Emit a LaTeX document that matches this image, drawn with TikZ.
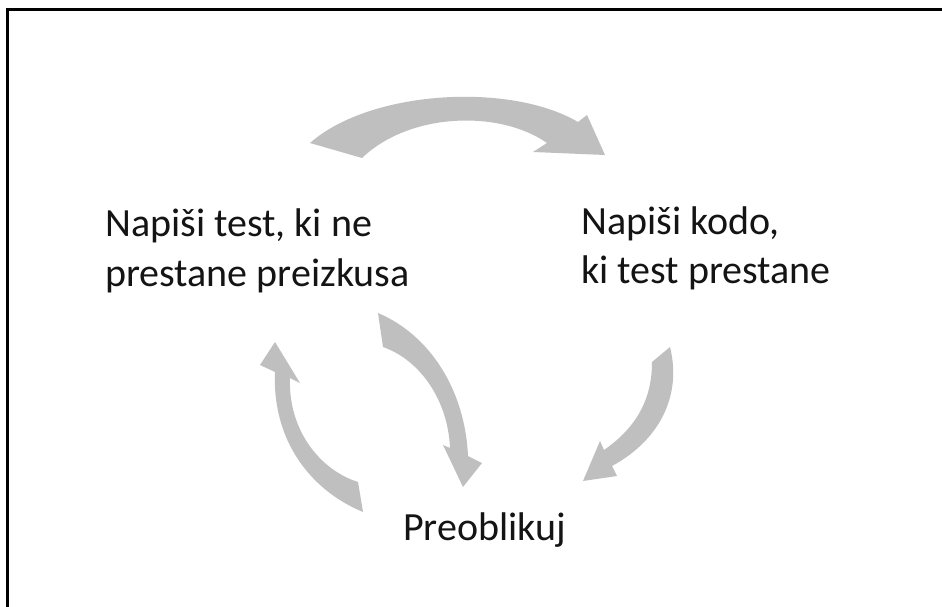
\documentclass[tikz,border=0pt]{standalone}
\usepackage{fontspec}
\setmainfont{Carlito}
\definecolor{arrowgray}{RGB}{191,191,191}
\definecolor{txtcol}{RGB}{20,20,20}
\begin{document}
\begin{tikzpicture}[x=1pt,y=-1pt,
  lbl/.style={anchor=base west,inner sep=0pt,text=txtcol,font=\fontsize{40}{48}\selectfont},
  cyclearrow/.style={fill=arrowgray,draw=none}]
\useasboundingbox (0,0) rectangle (942,607);
\fill[white] (0,0) rectangle (942,607);
\draw[line width=3pt,line cap=butt] (7.5,607) -- (7.5,10) -- (942,10);

% texts
\node[lbl] (left1) at (105,236) {Napiši test, ki ne};
\node[lbl] (left2) at (105,286) {prestane preizkusa};
\node[lbl] (right1) at (581,234) {Napiši kodo,};
\node[lbl] (right2) at (581,283) {ki test prestane};
\node[lbl] (bottom) at (403,540) {Preoblikuj};

% top arrow
\fill[cyclearrow] (310,143) .. controls (370,90) and (510,82) .. (578,122)
  -- (587,115) -- (605,155) -- (533,152)
  -- (547,143) .. controls (500,110) and (410,112) .. (362,158) -- cycle;

% right arrow
\fill[cyclearrow] (670,347) .. controls (682,395) and (660,440) .. (612,466)
  -- (617,476) -- (583,481) -- (600,441)
  -- (604,450) .. controls (640,425) and (652,395) .. (652,362) -- cycle;

% down arrow (from left text to Preoblikuj)
\fill[cyclearrow] (378,313) .. controls (430,335) and (465,390) .. (468,456)
  -- (482,463) -- (463,487) -- (443,445)
  -- (450,448) .. controls (448,400) and (420,360) .. (383,347) -- cycle;

% up arrow (from Preoblikuj to left text)
\fill[cyclearrow] (363,512) .. controls (310,490) and (272,440) .. (275,372)
  -- (260,365) -- (275,342) -- (300,383)
  -- (290,378) .. controls (288,430) and (320,470) .. (358,482) -- cycle;
\end{tikzpicture}
\end{document}
